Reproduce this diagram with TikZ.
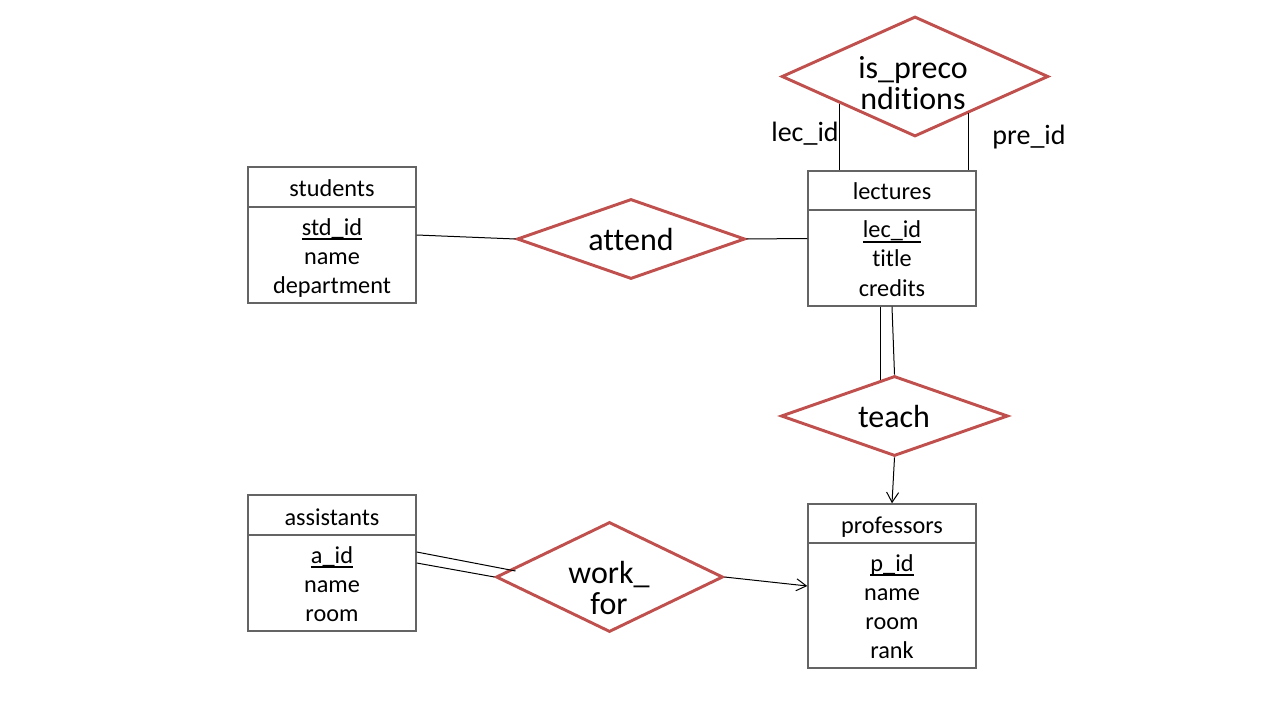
\documentclass[tikz,border=0pt]{standalone}
\usepackage{fontspec}
\setmainfont{Carlito}[Ligatures={NoCommon}]
\usetikzlibrary{arrows.meta,calc,shapes.geometric}
\definecolor{relred}{RGB}{192,80,77}
\definecolor{boxgray}{RGB}{100,100,100}
\newcommand\ulid[1]{\setbox0\hbox{#1}\rlap{\raisebox{-3.7pt}{\rule{\wd0}{1.4pt}}}\box0}
\begin{document}
\begin{tikzpicture}[x=0.75pt,y=-0.75pt,
  entbox/.style={draw=boxgray,line width=1.1pt,rectangle,inner sep=0pt,minimum width=126pt},
  enttext/.style={inner sep=0pt,anchor=base,font=\fontsize{18.2}{21}\selectfont},
  rel/.style={draw=relred,line width=2.2pt,diamond,inner sep=0pt,fill=white},
  reltext/.style={inner sep=0pt,anchor=base,font=\fontsize{24}{28}\selectfont},
  lbl/.style={inner sep=0pt,anchor=base,font=\fontsize{21}{25}\selectfont},
  conn/.style={draw=black,line width=0.75pt},
  arr/.style={conn,-{Straight Barb[length=7.5pt,width=9pt]}}]
\useasboundingbox (0,0) rectangle (1280,720);
\fill[white] (0,0) rectangle (1280,720);

% entity boxes
\node[entbox,minimum height=102pt] (students) at (332,235) {};
\draw[boxgray,line width=1.1pt] (248,207) -- (416,207);
\node[enttext] (studentsh) at (332,197) {students};
\node[enttext] (stdid) at (332,235) {\ulid{std\_id}};
\node[enttext] (stdname) at (332,264) {name};
\node[enttext] (stddep) at (332,293) {department};

\node[entbox,minimum height=101.25pt] (lectures) at (892,238.5) {};
\draw[boxgray,line width=1.1pt] (808,210) -- (976,210);
\node[enttext] (lecturesh) at (892,200) {lectures};
\node[enttext] (lecid) at (892,238) {\ulid{lec\_id}};
\node[enttext] (lectitle) at (892,267) {title};
\node[enttext] (leccred) at (892,296) {credits};

\node[entbox,minimum height=102pt] (assistants) at (332,563) {};
\draw[boxgray,line width=1.1pt] (248,535) -- (416,535);
\node[enttext] (assistantsh) at (332,525) {assistants};
\node[enttext] (aid) at (332,563) {\ulid{a\_id}};
\node[enttext] (aname) at (332,592) {name};
\node[enttext] (aroom) at (332,621) {room};

\node[entbox,minimum height=123pt] (professors) at (892,586) {};
\draw[boxgray,line width=1.1pt] (808,543) -- (976,543);
\node[enttext] (professorsh) at (892,533) {professors};
\node[enttext] (pid) at (892,571) {\ulid{p\_id}};
\node[enttext] (pname) at (892,600) {name};
\node[enttext] (proom) at (892,629) {room};
\node[enttext] (prank) at (892,658) {rank};

% relationships
\node[rel,minimum width=200pt,minimum height=90pt] (isp) at (915,76.5) {};
\node[reltext] (isp1) at (913,79) {is\_preco};
\node[reltext] (isp2) at (913,110) {nditions};

\node[rel,minimum width=171pt,minimum height=60pt] (attend) at (631,239) {};
\node[reltext] (attendt) at (631,250) {attend};

\node[rel,minimum width=170.25pt,minimum height=60pt] (teach) at (894.5,416) {};
\node[reltext] (teacht) at (894,427) {teach};

\node[rel,minimum width=170.25pt,minimum height=82.5pt] (work) at (609.5,577) {};
\node[reltext] (work1) at (609,583) {work\_};
\node[reltext] (work2) at (609,614) {for};

% connectors
\draw[conn] (students.east) -- (attend.west);
\draw[conn] (attend.east) -- (lectures.west);

\coordinate (pc1) at ($(isp.west)!0.44!(isp.south)$);
\coordinate (pc2) at ($(isp.south)!0.40!(isp.east)$);
\draw[conn] (pc1) -- (pc1 |- lectures.north);
\draw[conn] (pc2) -- (pc2 |- lectures.north);
\node[lbl] (lbllec) at (805,142) {lec\_id};
\node[lbl] (lblpre) at (1029,145) {pre\_id};

\coordinate (tc1) at ($(teach.west)!0.876!(teach.north)$);
\draw[conn] (tc1 |- lectures.south) -- (tc1);
\draw[conn] (lectures.south) -- (teach.north);
\draw[arr] (teach.south) -- (professors.north);

\coordinate (wc1) at ($(work.west)+(21,-6)$);
\draw[conn] ($(assistants.east)+(0,-11)$) -- (wc1);
\draw[conn] (assistants.east) -- (work.west);
\draw[arr] (work.east) -- (professors.west);
\end{tikzpicture}
\end{document}
